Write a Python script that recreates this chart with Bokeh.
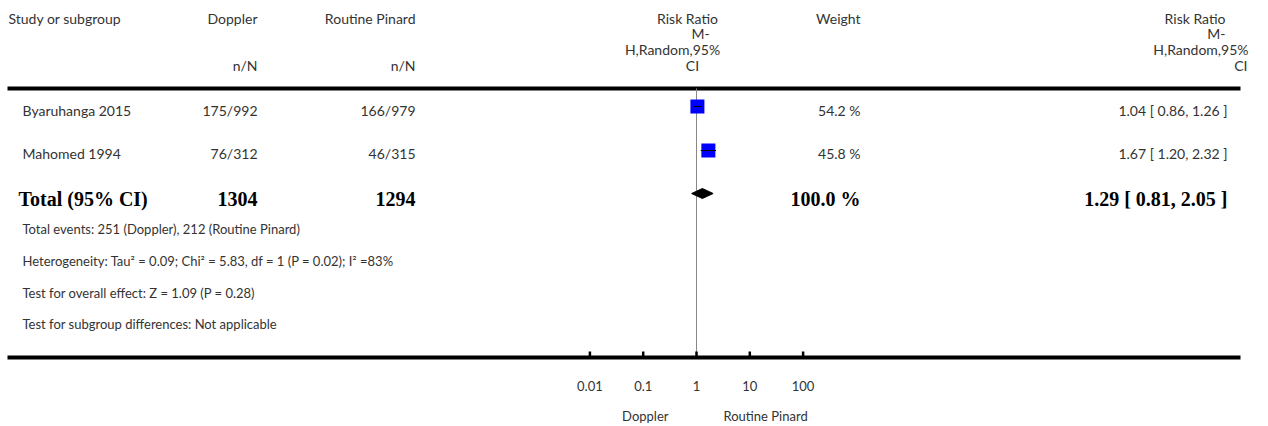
from bokeh.plotting import figure
from bokeh.models import Range1d, LogScale
from bokeh.core.properties import value
from bokeh.embed import file_html
from bokeh.resources import INLINE

# ---------------- data ----------------
studies = ["Byaruhanga 2015", "Mahomed 1994"]
doppler_n = [175, 76]
doppler_N = [992, 312]
pinard_n = [166, 46]
pinard_N = [979, 315]
rr = [1.04, 1.67]
rr_lo = [0.86, 1.20]
rr_hi = [1.26, 2.32]
weights = [54.2, 45.8]

total_label = "Total (95% CI)"
doppler_total = 1304
pinard_total = 1294
rr_total = 1.29
rr_total_lo = 0.81
rr_total_hi = 2.05
weight_total = 100.0

footnotes = [
    "Total events: 251 (Doppler), 212 (Routine Pinard)",
    "Heterogeneity: Tau\u00b2 = 0.09; Chi\u00b2 = 5.83, df = 1 (P = 0.02); I\u00b2 =83%",
    "Test for overall effect: Z = 1.09 (P = 0.28)",
    "Test for subgroup differences: Not applicable",
]

axis_ticks = [0.01, 0.1, 1, 10, 100]
axis_tick_labels = ["0.01", "0.1", "1", "10", "100"]
favours_left = "Doppler"
favours_right = "Routine Pinard"

col_headers = ["Study or subgroup", "Doppler", "Routine Pinard", "Weight"]
rr_header_lines = ["Risk Ratio", "M-", "H,Random,95%", "CI"]

# ---------------- layout ----------------
W, H = 1268, 426
FONT = value("Lato")
TXT = "#333333"
FS = "14px"

p = figure(width=W, height=H, x_range=Range1d(0, W), y_range=Range1d(H, 0),
           output_backend="svg", toolbar_location=None,
           x_axis_type=None, y_axis_type=None, min_border=0)
p.outline_line_color = None
p.xgrid.visible = False
p.ygrid.visible = False

# log scale for the forest graph: value 1 at x=696, 53.3 px per decade
X1, PPD = 696.0, 53.3
p.extra_x_ranges = {"rr": Range1d(10 ** ((0 - X1) / PPD), 10 ** ((W - X1) / PPD))}
p.extra_x_scales = {"rr": LogScale()}

def txt(x, y, t, align="left", size=FS, font=FONT, style="normal", color=TXT, **kw):
    p.text(x=x, y=y, text=t, text_align=align, text_baseline="middle",
           text_font=font, text_font_size=size, text_font_style=style,
           text_color=color, **kw)

# header
Y_H1, Y_H2, Y_H3, Y_H4 = 18, 33, 49, 65
txt([8], [Y_H1], [col_headers[0]])
txt([257, 415, 860], [Y_H1] * 3, col_headers[1:], align="right")
txt([257, 415], [Y_H4, Y_H4], ["n/N", "n/N"], align="right")
# graph header
txt([687, 700, 672, 692], [Y_H1, Y_H2, Y_H3, Y_H4], rr_header_lines, align="center")
# right risk ratio header
txt([1225, 1225, 1248, 1247], [Y_H1, Y_H2, Y_H3, Y_H4], rr_header_lines, align="right")

# rule lines
p.segment(x0=[7], y0=[88], x1=[1240], y1=[88], line_color="black", line_width=4)
p.segment(x0=[7], y0=[357], x1=[1240], y1=[357], line_color="black", line_width=4)

# null line
p.segment(x0=[1], x1=[1], y0=[88], y1=[356], x_range_name="rr",
          line_color="#888888", line_width=1)

# study rows
row_y = [110, 153]
mark_y = [106, 150]
txt([22] * len(studies), row_y, studies)
txt([257] * len(studies), row_y, [f"{a}/{b}" for a, b in zip(doppler_n, doppler_N)], align="right")
txt([415] * len(studies), row_y, [f"{a}/{b}" for a, b in zip(pinard_n, pinard_N)], align="right")
txt([860] * len(studies), row_y, [f"{w:.1f} %" for w in weights], align="right")
txt([1227] * len(studies), row_y,
    [f"{r:.2f} [ {l:.2f}, {h:.2f} ]" for r, l, h in zip(rr, rr_lo, rr_hi)], align="right")

p.scatter(x=rr, y=mark_y, marker="square", size=14, fill_color="#0000FF",
          line_color=None, x_range_name="rr")
p.segment(x0=rr_lo, x1=rr_hi, y0=mark_y, y1=mark_y, x_range_name="rr",
          line_color="black", line_width=1)

# total row
Y_T = 198
SERIF = value("Liberation Serif")
BFS = "20px"
txt([18], [Y_T], [total_label], size=BFS, font=SERIF, style="bold", color="black")
txt([257, 415], [Y_T, Y_T], [str(doppler_total), str(pinard_total)], align="right",
    size=BFS, font=SERIF, style="bold", color="black")
txt([860], [Y_T], [f"{weight_total:.1f} %"], align="right",
    size=BFS, font=SERIF, style="bold", color="black")
txt([1227], [Y_T], [f"{rr_total:.2f} [ {rr_total_lo:.2f}, {rr_total_hi:.2f} ]"], align="right",
    size=BFS, font=SERIF, style="bold", color="black")
DY = 193
p.patch(x=[rr_total_lo, rr_total, rr_total_hi, rr_total], y=[DY, DY - 5, DY, DY + 5],
        x_range_name="rr", fill_color="black", line_color="black", line_width=1)

# footnotes
txt([22] * len(footnotes), [228, 260, 292, 323], footnotes, size="13px")

# axis ticks & labels
p.segment(x0=axis_ticks, x1=axis_ticks, y0=[351] * 5, y1=[357] * 5, x_range_name="rr",
          line_color="black", line_width=2.5)
txt(axis_ticks, [385] * 5, axis_tick_labels, align="center", size="13px", x_range_name="rr")
txt([1], [415], [favours_left], align="right", size="13px", x_range_name="rr", x_offset=-28)
txt([1], [415], [favours_right], align="left", size="13px", x_range_name="rr", x_offset=27)

open("out.html", "w").write(file_html(p, INLINE))
